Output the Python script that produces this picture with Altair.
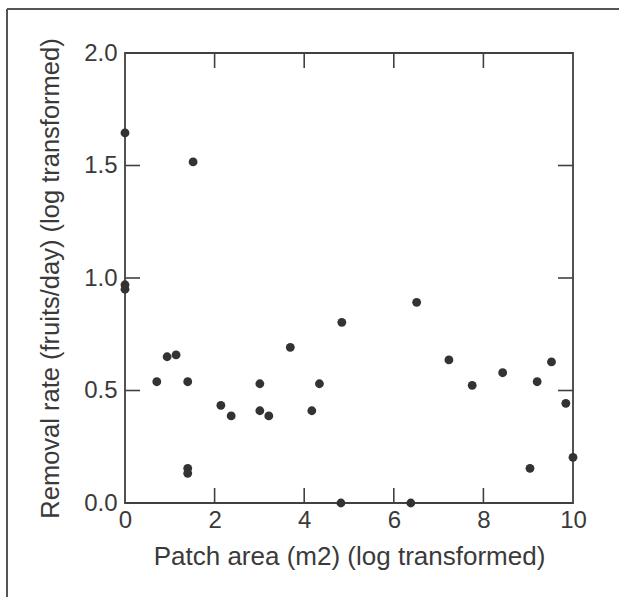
import altair as alt
import pandas as pd

x_vals = [0.0, 0.0, 0.0, 1.52, 0.71, 0.94, 1.14, 1.40, 1.40, 1.40, 2.14, 2.37, 3.01, 3.01,
          3.21, 3.69, 4.17, 4.34, 4.84, 4.82, 6.38, 6.51, 7.23, 7.75, 8.43, 9.04, 9.20,
          9.52, 9.84, 10.0]
y_vals = [1.645, 0.97, 0.95, 1.516, 0.539, 0.65, 0.658, 0.539, 0.154, 0.132, 0.434, 0.387,
          0.530, 0.41, 0.387, 0.692, 0.41, 0.530, 0.803, 0.0, 0.0, 0.892, 0.636, 0.523,
          0.579, 0.154, 0.539, 0.627, 0.443, 0.203]
x_ticks = [0, 2, 4, 6, 8, 10]
y_ticks = [0.0, 0.5, 1.0, 1.5, 2.0]
x_inner = [2, 4, 6, 8]
y_inner = [0.5, 1.0, 1.5]

W, H = 448, 450
LINE = "#404040"
FONT = "Liberation Sans"
TXT = "#3a3a3a"

df = pd.DataFrame({"x": x_vals, "y": y_vals})
xs = alt.Scale(domain=[0, 10], nice=False, zero=False)
ys = alt.Scale(domain=[0, 2], nice=False, zero=False)

points = alt.Chart(df).mark_circle(size=78, color="#333333", opacity=1).encode(
    x=alt.X("x:Q", scale=xs, title="Patch area (m2) (log transformed)",
            axis=alt.Axis(values=x_ticks, format="d", tickSize=0, domain=False, grid=False,
                          labelFlush=False, labelFontSize=24, labelPadding=5, titleFontSize=26,
                          titlePadding=11, labelFont=FONT, titleFont=FONT,
                          labelColor=TXT, titleColor=TXT, titleFontWeight="normal")),
    y=alt.Y("y:Q", scale=ys, title="Removal rate (fruits/day) (log transformed)",
            axis=alt.Axis(values=y_ticks, format=".1f", tickSize=0, domain=False, grid=False,
                          labelFlush=False, labelFontSize=24, labelPadding=8, titleFontSize=25.5,
                          titlePadding=20, labelFont=FONT, titleFont=FONT,
                          labelColor=TXT, titleColor=TXT, titleFontWeight="normal")),
)

xt = pd.DataFrame({"t": x_inner})
yt = pd.DataFrame({"t": y_inner})
tick_style = dict(color=LINE, strokeWidth=1.6)
bottom_ticks = alt.Chart(xt).mark_rule(**tick_style).encode(
    x=alt.X("t:Q", scale=xs), y=alt.value(H), y2=alt.value(H - 15))
top_ticks = alt.Chart(xt).mark_rule(**tick_style).encode(
    x=alt.X("t:Q", scale=xs), y=alt.value(0), y2=alt.value(15))
left_ticks = alt.Chart(yt).mark_rule(**tick_style).encode(
    y=alt.Y("t:Q", scale=ys), x=alt.value(0), x2=alt.value(15))
right_ticks = alt.Chart(yt).mark_rule(**tick_style).encode(
    y=alt.Y("t:Q", scale=ys), x=alt.value(W), x2=alt.value(W - 15))

frame_top = alt.Chart(xt).mark_rule(color="#555555", strokeWidth=1.5, clip=False).encode(
    x=alt.value(-118), x2=alt.value(W + 46), y=alt.value(-44))
frame_left = alt.Chart(xt).mark_rule(color="#555555", strokeWidth=1.5, clip=False).encode(
    x=alt.value(-118), y=alt.value(-44), y2=alt.value(H + 94))

chart = alt.layer(frame_top, frame_left, bottom_ticks, top_ticks, left_ticks, right_ticks, points).properties(
    width=W, height=H,
    autosize=alt.AutoSizeParams(type="none"),
    padding={"left": 125, "top": 53, "right": 46, "bottom": 94},
    background="white",
).configure_view(stroke=LINE, strokeWidth=1.8)

chart.save("out.html", embed_options={"renderer": "svg", "actions": False})
